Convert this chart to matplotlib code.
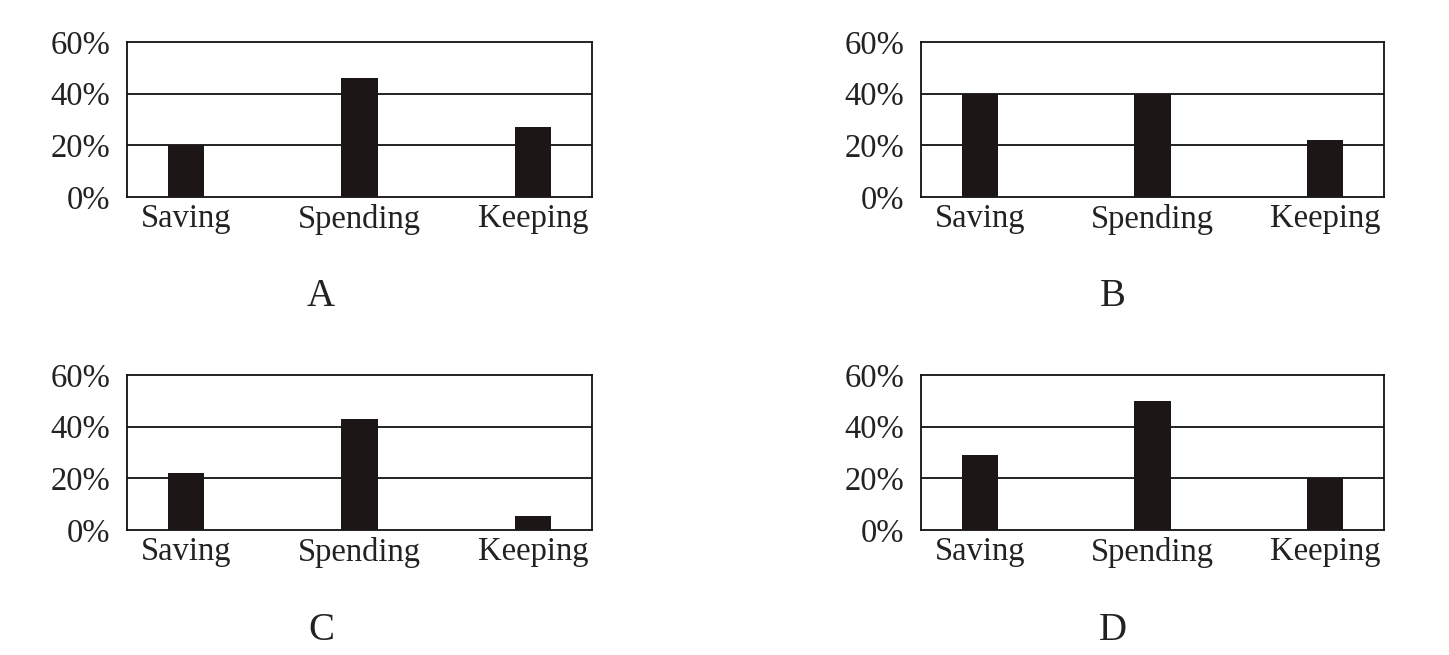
import matplotlib.pyplot as plt
import numpy as np

plt.rcParams['font.family'] = ['Liberation Serif', 'DejaVu Serif']

categories = ["Saving", "Spending", "Keeping"]
panel_names = ["A", "B", "C", "D"]

# percentages
values_a = [20, 46, 27]
values_b = [40, 40, 22]
values_c = [22, 43, 5.5]
values_d = [29, 50, 20]
all_values = [values_a, values_b, values_c, values_d]

y_ticks = [0, 20, 40, 60]
y_tick_labels = ["0%", "20%", "40%", "60%"]

W, H = 1449, 655
fig = plt.figure(figsize=(W / 100, H / 100), dpi=100)

# axes boxes in pixels: left, top, right, bottom
boxes = [(127, 42, 592, 197), (921, 42, 1384, 197),
         (127, 375, 592, 530), (921, 375, 1384, 530)]
# panel letter positions in pixels
letter_pos = [(321, 297), (1113, 297), (321, 630), (1113, 630)]

text_col = "#222222"
bar_col = "#1c1616"

x = np.arange(len(categories))

for vals, box, name, lp in zip(all_values, boxes, panel_names, letter_pos):
    l, t, r, b = box
    ax = fig.add_axes([l / W, (H - b) / H, (r - l) / W, (b - t) / H])
    ax.bar(x, vals, width=0.21, color=bar_col, zorder=3)
    ax.set_xlim(-0.34, 2.34)
    ax.set_ylim(0, 60)
    ax.set_yticks(y_ticks)
    ax.set_yticklabels(y_tick_labels)
    ax.set_xticks(x)
    ax.set_xticklabels(categories)
    ax.tick_params(length=0, labelsize=23.5, colors=text_col, pad=12)
    ax.tick_params(axis="x", pad=5)
    for yv in y_ticks[1:-1]:
        ax.axhline(yv, color="#111111", lw=1.3, zorder=1)
    for s in ax.spines.values():
        s.set_linewidth(1.3)
        s.set_color("#111111")
    fig.text(lp[0] / W, 1 - lp[1] / H, name, fontsize=28, color=text_col,
             ha="center", va="center")

fig.savefig("out.png", dpi=100)
